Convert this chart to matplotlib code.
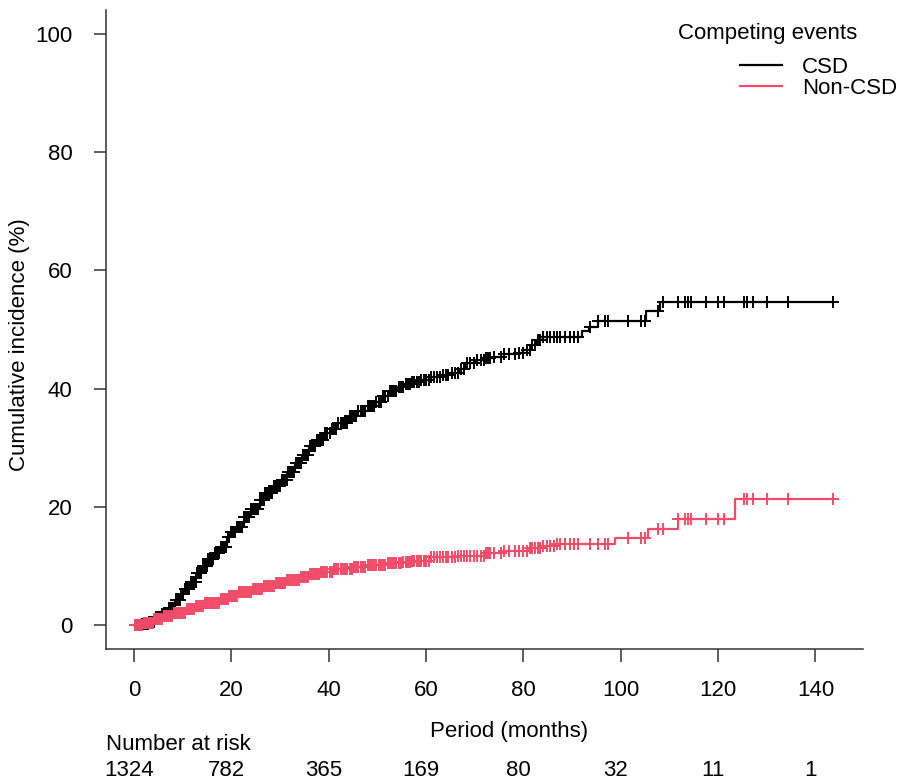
import matplotlib.pyplot as plt
import matplotlib.transforms as mtransforms
import numpy as np

plt.rcParams['font.family'] = ['Liberation Sans', 'DejaVu Sans']

# cumulative incidence step points (months, %)
csd_t = [0, 1.5, 3.0, 4.5, 5.5, 7.0, 8.5, 9.5, 10.5, 11.5, 12.8, 14.0, 15.2, 16.5, 17.6,
         19.0, 20.0, 21.0, 22.5, 24.0, 25.8, 27.0, 28.5, 30.0, 31.5, 33.0, 34.5, 36.0,
         37.4, 39.0, 40.5, 42.0, 44.0, 46.0, 48.0, 49.7, 51.0, 52.5, 54.0, 55.5, 57.0,
         59.0, 61.0, 63.0, 65.0, 67.0, 68.0, 70.0, 72.0, 74.0, 76.0, 78.5, 80.0, 81.5,
         82.5, 83.5, 92.0, 93.5, 95.4, 105.2, 108.0]
csd_y = [0, 0.2, 0.6, 1.4, 2.0, 3.0, 4.2, 5.3, 6.2, 7.3, 8.8, 10.0, 11.2, 12.3, 13.3,
         15.0, 15.8, 16.7, 18.3, 19.6, 21.2, 22.3, 23.6, 24.6, 26.0, 27.4, 28.8, 30.3,
         31.4, 32.5, 33.2, 34.2, 35.3, 36.2, 37.0, 37.8, 38.8, 39.6, 40.2, 40.8, 41.2,
         41.5, 42.0, 42.3, 42.7, 43.4, 44.3, 44.8, 45.2, 45.4, 45.8, 46.1, 46.6, 47.3,
         48.3, 48.8, 49.7, 50.5, 51.5, 53.1, 54.6]

noncsd_t = [0, 2.0, 4.0, 6.0, 8.0, 10.8, 12.5, 14.5, 17.6, 19.5, 21.5, 24.4, 26.5, 29.0,
            31.3, 34.0, 36.0, 38.1, 41.0, 44.9, 48.0, 51.7, 55.0, 57.2, 61.0, 66.0, 72.0,
            76.0, 81.0, 84.0, 86.5, 98.8, 105.6, 111.7, 123.4]
noncsd_y = [0, 0.4, 1.0, 1.5, 2.1, 2.8, 3.2, 3.8, 4.5, 5.0, 5.6, 6.2, 6.7, 7.2,
            7.6, 8.2, 8.6, 9.0, 9.5, 9.9, 10.2, 10.5, 10.7, 10.9, 11.5, 11.8, 12.3,
            12.5, 13.0, 13.4, 13.7, 14.7, 16.2, 17.9, 21.4]

# censoring times (shared by both curves)
censor_t = [0.2, 0.6, 1.0, 1.3, 1.7, 2.1, 2.4, 2.8, 3.1, 3.5, 3.9, 4.2, 4.6, 5.0, 5.3,
            5.7, 6.1, 6.4, 6.8, 7.2, 7.5, 7.9, 8.3, 8.6, 9.0, 9.4, 9.7, 10.1, 10.5, 10.8,
            11.2, 11.6, 11.9, 12.3, 12.7, 13.0, 13.4, 13.8, 14.1, 14.5, 14.9, 15.2, 15.6,
            16.0, 16.3, 16.7, 17.1, 17.4, 17.8, 18.2, 18.5, 18.9, 19.3, 19.6, 20.0, 20.4,
            20.7, 21.1, 21.5, 21.8, 22.2, 22.6, 22.9, 23.3, 23.7, 24.0, 24.4, 24.8, 25.1,
            25.5, 25.9, 26.2, 26.6, 27.0, 27.3, 27.7, 28.1, 28.4, 28.8, 29.2, 29.5, 29.9,
            30.3, 30.6, 31.0, 31.4, 31.7, 32.1, 32.5, 32.8, 33.2, 33.6, 33.9, 34.3, 34.7,
            35.0, 35.4, 35.8, 36.1, 36.5, 36.9, 37.2, 37.6, 38.0, 38.4, 38.8, 39.3, 39.7,
            40.2, 40.6, 41.1, 41.5, 42.0, 42.5, 42.9, 43.4, 43.8, 44.3, 44.8, 45.2, 45.7,
            46.1, 46.6, 47.0, 47.5, 48.0, 48.4, 48.9, 49.3, 49.8, 50.3, 50.7, 51.2, 51.6,
            52.1, 52.6, 53.0, 53.5, 53.9, 54.4, 54.9, 55.3, 55.8, 56.2, 56.7, 57.2, 57.6,
            58.1, 58.5, 59.0, 59.5, 59.9, 60.5, 61.1, 61.7, 62.2, 62.8, 63.4, 64.0, 64.6,
            65.3, 65.9, 66.5, 67.2, 67.8, 68.5, 69.1, 69.8, 70.4, 71.2, 71.8, 72.3, 72.8,
            73.2, 74.0, 75.3, 76.1, 77.0, 78.2, 79.0, 79.9, 80.8, 81.3, 81.8, 82.4, 83.0,
            83.4, 84.1, 84.8, 85.5, 86.2, 86.8, 87.5, 88.6, 89.6, 90.3, 91.3, 93.7, 95.4,
            96.7, 97.4, 101.5, 104.2, 104.9, 107.7, 108.7, 111.7, 113.1, 113.8, 114.4,
            117.5, 120.0, 121.3, 125.4, 126.0, 127.1, 130.0, 134.4, 143.5]

risk_times = [0, 20, 40, 60, 80, 100, 120, 140]
risk_n = [1324, 782, 365, 169, 80, 32, 11, 1]

series = [("CSD", csd_t, csd_y, "black"),
          ("Non-CSD", noncsd_t, noncsd_y, "#F04C68")]

W, H = 898, 781
FS = 16
fig = plt.figure(figsize=(W / 100, H / 100), dpi=100)
ax = fig.add_axes([106 / W, 132 / H, 757 / W, 639 / H])

t_end = censor_t[-1]
cens = np.array(censor_t)
handles = []
for name, t, y, col in series:
    tt = np.array(t + [t_end])
    yy = np.array(y + [y[-1]])
    ln, = ax.step(tt, yy, where="post", color=col, lw=1.6, label=name)
    idx = np.searchsorted(t, cens, side="right") - 1
    ax.plot(cens, np.array(y)[idx], linestyle="none", marker="+", ms=9, mew=1.4, color=col)
    handles.append(ln)

ax.set_xlim(-5.76, 149.76)
ax.set_ylim(-4, 104)
ax.set_xticks(range(0, 141, 20))
ax.set_yticks(range(0, 101, 20))
for s in ["top", "right"]:
    ax.spines[s].set_visible(False)
for s in ["left", "bottom"]:
    ax.spines[s].set_color("#333333")
    ax.spines[s].set_linewidth(1.1)
ax.tick_params(axis="both", direction="out", length=9, width=1.1, color="#333333",
               labelsize=FS)
ax.tick_params(axis="y", pad=15)
ax.tick_params(axis="x", pad=13)

fig.text(20 / W, 1 - 345 / H, "Cumulative incidence (%)", rotation=90,
         ha="center", va="center", fontsize=FS)
fig.text(509 / W, 1 - 732 / H, "Period (months)", ha="center", va="center", fontsize=FS)
fig.text(106 / W, 1 - 745 / H, "Number at risk", ha="left", va="center", fontsize=FS)
# risk table row, placed 121 px below the x axis line
risk_tr = ax.get_xaxis_transform() + mtransforms.ScaledTranslation(
    0, -(770 - 649) / 100, fig.dpi_scale_trans)
for rt, n in zip(risk_times, risk_n):
    ax.text(rt - 1, 0, str(n), transform=risk_tr, ha="center", va="center", fontsize=FS)

fig.text(768 / W, 1 - 33 / H, "Competing events", ha="center", va="center", fontsize=FS)
ax.legend(handles=handles, loc="upper left", bbox_to_anchor=(740 / W, 1 - 57 / H),
          bbox_transform=fig.transFigure, frameon=False, fontsize=FS, borderpad=0,
          borderaxespad=0, handlelength=1.9, handletextpad=0.9, labelspacing=0.0)

fig.savefig("out.png", dpi=100)
